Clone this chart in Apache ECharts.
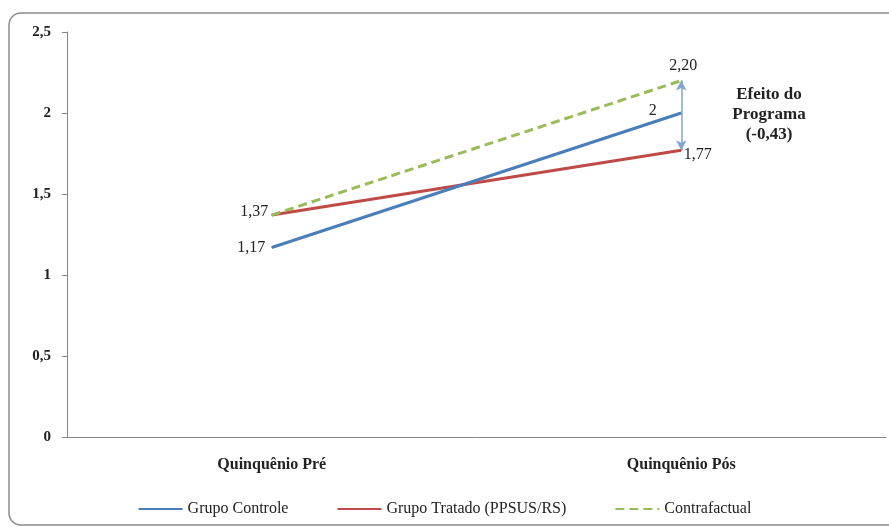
<!DOCTYPE html>
<html><head><meta charset="utf-8">
<script src="https://cdn.jsdelivr.net/npm/echarts@6/dist/echarts.min.js"></script>
<style>html,body{margin:0;padding:0;background:#fff}#c{width:889px;height:527px}</style>
</head><body><div id="c"></div>
<script>
const categories = ['Quinquênio Pré', 'Quinquênio Pós'];
const controle = [1.17, 2];
const tratado = [1.37, 1.77];
const contrafactual = [1.37, 2.20];
const yTicks = [0, 0.5, 1, 1.5, 2, 2.5];
const effectText = ['Efeito do', 'Programa', '(-0,43)'];

const fmt = v => Number.isInteger(v) ? String(v) : v.toFixed(2).replace('.', ',');
const labelFont = {fontFamily: 'Liberation Serif', fontSize: 16, color: '#222'};

const chart = echarts.init(document.getElementById('c'));
chart.setOption({
  animation: false,
  graphic: [
    {type: 'rect', shape: {x: 9, y: 13, width: 900, height: 512, r: 12},
     style: {fill: 'none', stroke: '#8c8c8c', lineWidth: 1.5}, z: -1},
    {type: 'text', x: 769, y: 85,
     style: {text: effectText.join('\n'), fontFamily: 'Liberation Serif', fontWeight: 'bold',
             fontSize: 17, lineHeight: 20, align: 'center', verticalAlign: 'top', fill: '#222'}}
  ],
  grid: {left: 67, right: 3, top: 32, bottom: 90},
  legend: {
    bottom: 5, left: 'center', itemGap: 48, itemWidth: 44, itemHeight: 10,
    itemStyle: {opacity: 0},
    textStyle: {fontFamily: 'Liberation Serif', fontSize: 16, color: '#222'},
    data: ['Grupo Controle', 'Grupo Tratado (PPSUS/RS)', 'Contrafactual']
  },
  xAxis: {
    type: 'category', data: categories, boundaryGap: true,
    axisLine: {lineStyle: {color: '#868686'}},
    axisTick: {lineStyle: {color: '#868686'}, length: 5},
    axisLabel: {fontFamily: 'Liberation Serif', fontWeight: 'bold', fontSize: 16, color: '#222', margin: 20}
  },
  yAxis: {
    type: 'value', min: yTicks[0], max: yTicks[yTicks.length - 1], interval: 0.5,
    axisLine: {show: true, lineStyle: {color: '#868686'}},
    axisTick: {show: true, lineStyle: {color: '#868686'}, length: 5},
    splitLine: {show: false},
    axisLabel: {fontFamily: 'Liberation Serif', fontWeight: 'bold', fontSize: 15, color: '#222', margin: 16,
                formatter: v => String(v).replace('.', ',')}
  },
  series: [
    {
      name: 'Grupo Controle', type: 'line', symbol: 'circle', symbolSize: 1, z: 3,
      lineStyle: {color: '#4a7ebb', width: 3}, itemStyle: {color: '#4a7ebb'},
      data: controle.map((v, i) => ({value: v, label: i === 0
        ? {show: true, position: 'left', distance: 6, offset: [0, 0]}
        : {show: true, position: 'left', distance: 24, offset: [0, -2]}})),
      label: Object.assign({formatter: p => fmt(p.value)}, labelFont)
    },
    {
      name: 'Grupo Tratado (PPSUS/RS)', type: 'line', symbol: 'circle', symbolSize: 1, z: 2,
      lineStyle: {color: '#be4b48', width: 3}, itemStyle: {color: '#be4b48'},
      data: tratado.map((v, i) => ({value: v, label: i === 0
        ? {show: true, position: 'left', distance: 3, offset: [0, -3]}
        : {show: true, position: 'right', distance: 2, offset: [0, 5]}})),
      label: Object.assign({formatter: p => fmt(p.value)}, labelFont)
    },
    {
      name: 'Contrafactual', type: 'line', symbol: 'circle', symbolSize: 1, z: 4,
      lineStyle: {color: '#9bbb59', width: 3, type: [9, 5]}, itemStyle: {color: '#9bbb59'},
      data: contrafactual.map((v, i) => ({value: v, label: i === 0
        ? {show: false}
        : {show: true, position: 'top', distance: 6, offset: [2, 0]}})),
      label: Object.assign({formatter: p => fmt(p.value)}, labelFont),
      markLine: {
        silent: true, symbol: ['arrow', 'arrow'], symbolSize: [8, 10],
        lineStyle: {color: '#7fa6cf', width: 1.5, type: 'solid'},
        label: {show: false},
        data: [[{coord: [1, contrafactual[1]]}, {coord: [1, tratado[1]]}]]
      }
    }
  ]
});
</script></body></html>
